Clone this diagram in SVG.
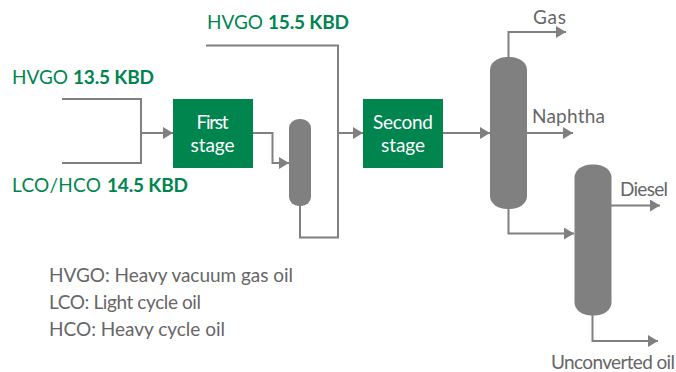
<svg xmlns="http://www.w3.org/2000/svg" width="676" height="372" viewBox="0 0 676 372">
<style>
text{font-family:Lato,"Liberation Sans",sans-serif;font-size:19px}
.g{fill:#00854f}
.b{font-weight:700}
.w{fill:#fff;text-anchor:middle}
.t{fill:#666}
.l{fill:none;stroke:#808080;stroke-width:2}
.v{fill:#808080}
.box{fill:#00854f}
</style>
<defs><marker id="a" markerUnits="userSpaceOnUse" markerWidth="11" markerHeight="12" refX="10" refY="6" orient="auto"><path d="M0 0L10 6L0 12Z" fill="#808080"/></marker></defs>
<g id="connectors">
<path class="l" d="M62 99H141V163H62"/>
<path class="l" d="M141 133H173" marker-end="url(#a)"/>
<path class="l" d="M253 133H272.500V163H289" marker-end="url(#a)"/>
<path class="l" d="M206 45.500H338V237.500H300V206"/>
<path class="l" d="M338 133H363" marker-end="url(#a)"/>
<path class="l" d="M443 133H490" marker-end="url(#a)"/>
<path class="l" d="M508.500 57V32H566" marker-end="url(#a)"/>
<path class="l" d="M527 133H573" marker-end="url(#a)"/>
<path class="l" d="M508.500 209V233.500H574" marker-end="url(#a)"/>
<path class="l" d="M611 205.500H660" marker-end="url(#a)"/>
<path class="l" d="M592.500 315V341H658" marker-end="url(#a)"/>
</g>
<g id="first-stage"><rect class="box" x="173" y="99" width="80" height="69"/><text class="w" x="212.500" y="129" textLength="32">First</text><text class="w" x="212.500" y="152" textLength="44">stage</text></g>
<g id="second-stage"><rect class="box" x="363" y="99" width="80" height="69"/><text class="w" x="403" y="129" textLength="60">Second</text><text class="w" x="403" y="152" textLength="44">stage</text></g>
<g id="vessel-1"><rect class="v" x="289" y="119" width="22" height="87" rx="10" ry="9"/></g>
<g id="vessel-2"><rect class="v" x="490" y="57" width="37" height="152" rx="17" ry="13"/></g>
<g id="vessel-3"><rect class="v" x="574.500" y="164.500" width="37" height="151" rx="17" ry="13"/></g>
<g id="label-hvgo-13"><text class="g" x="12" y="84"><tspan textLength="56">HVGO</tspan><tspan class="b" textLength="81" x="73">13.5 KBD</tspan></text></g>
<g id="label-lco"><text class="g" x="12" y="192"><tspan textLength="89">LCO/HCO</tspan><tspan class="b" textLength="81" x="107">14.5 KBD</tspan></text></g>
<g id="label-hvgo-15"><text class="g" x="207" y="29"><tspan textLength="56">HVGO</tspan><tspan class="b" textLength="81" x="268">15.5 KBD</tspan></text></g>
<g id="label-gas"><text class="t" x="533" y="24" textLength="33">Gas</text></g>
<g id="label-naphtha"><text class="t" x="532" y="123" textLength="73">Naphtha</text></g>
<g id="label-diesel"><text class="t" x="620" y="196" textLength="48">Diesel</text></g>
<g id="label-unconverted"><text class="t" x="551" y="369" textLength="124">Unconverted oil</text></g>
<g id="legend"><text class="t" x="49" y="282" textLength="244">HVGO: Heavy vacuum gas oil</text><text class="t" x="49" y="309" textLength="152">LCO: Light cycle oil</text><text class="t" x="49" y="336" textLength="176">HCO: Heavy cycle oil</text></g>
</svg>
